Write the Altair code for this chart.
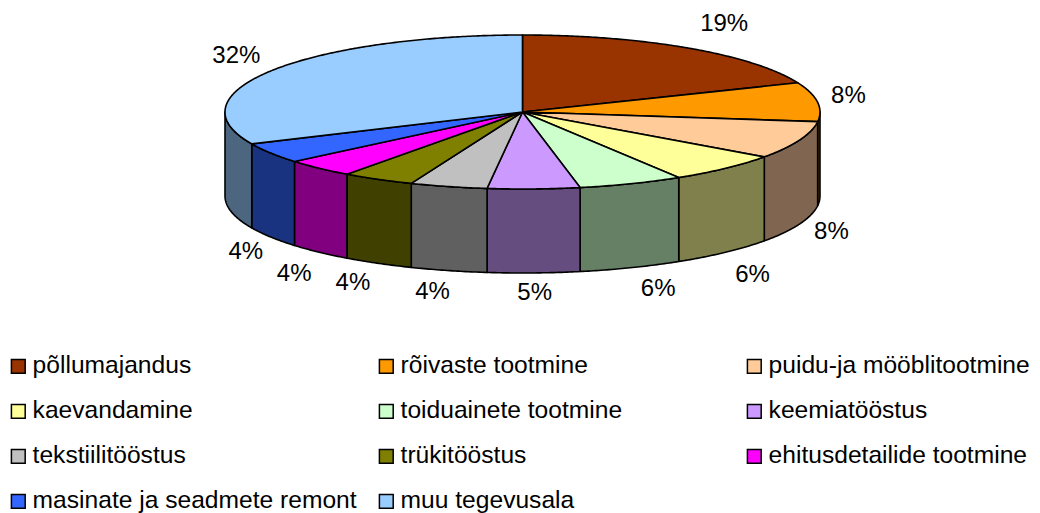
import numpy as np
import altair as alt

# --- data ---
names = ["põllumajandus", "rõivaste tootmine", "puidu-ja mööblitootmine",
         "kaevandamine", "toiduainete tootmine", "keemiatööstus",
         "tekstiilitööstus", "trükitööstus", "ehitusdetailide tootmine",
         "masinate ja seadmete remont", "muu tegevusala"]
shares = [18.8, 8.2, 7.9, 6.3, 5.7, 5.0, 4.2, 3.95, 3.85, 4.3, 31.8]
labels = ["19%", "8%", "8%", "6%", "6%", "5%", "4%", "4%", "4%", "4%", "32%"]
top_colors = ["#993300", "#FF9900", "#FFCC99", "#FFFF99", "#CCFFCC", "#CC99FF",
              "#C0C0C0", "#808000", "#FF00FF", "#3366FF", "#99CCFF"]
side_colors = ["#4D1A00", "#804C00", "#806650", "#80804D", "#668066", "#664D80",
               "#606060", "#404000", "#800080", "#1A3380", "#4D6680"]

# --- layout of the tilted pie (plot-area pixels) ---
CX, CY, RX, RY, DEPTH = 514.5, 104.0, 297.5, 77.0, 84.0
# label offset from the outer rim point at each slice's middle angle
label_nudge = [(36, -24), (31, -6), (32, 8), (27, 23), (27, 21), (1, 20),
               (-16, 21), (-25, 20), (-25, 22), (-25, 15), (-36, -14)]


def rim(deg, drop=0.0):
    t = np.radians(deg)
    return [float(CX + RX * np.sin(t)), float(CY - RY * np.cos(t) + drop)]


def feature(coords, name, side):
    return {"type": "Feature",
            "geometry": {"type": "Polygon", "coordinates": [coords + [coords[0]]]},
            "properties": {"name": name, "side": side}}


edges = np.cumsum([0.0] + shares) / np.sum(shares) * 360.0
tops, sides, text_rows = [], [], []
for i, name in enumerate(names):
    a0, a1 = float(edges[i]), float(edges[i + 1])
    steps = np.linspace(a0, a1, max(3, int(a1 - a0) * 2))
    tops.append(feature([[CX, CY]] + [rim(d) for d in steps], name, top_colors[i]))
    s0, s1 = max(a0, 90.0), min(a1, 270.0)
    if s1 > s0:
        arc = np.linspace(s0, s1, max(3, int(s1 - s0) * 2))
        sides.append(feature([rim(d) for d in arc] + [rim(d, DEPTH) for d in arc[::-1]],
                             name, side_colors[i]))
    mid = (a0 + a1) / 2
    drop = DEPTH if 90 < mid < 270 else 0.0
    px, py = rim(mid, drop)
    text_rows.append({"label": labels[i], "lx": px + label_nudge[i][0], "ly": py + label_nudge[i][1]})

proj = dict(type="identity", scale=1, translate=[0, 0])

side_layer = alt.Chart(alt.Data(values=sides)).mark_geoshape(
    stroke="black", strokeWidth=1.6, strokeJoin="round"
).encode(color=alt.Color("properties.side:N", scale=None, legend=None)).project(**proj)

top_layer = alt.Chart(alt.Data(values=tops)).mark_geoshape(
    stroke="black", strokeWidth=1.6, strokeJoin="round"
).encode(
    color=alt.Color(
        "properties.name:N",
        scale=alt.Scale(domain=names, range=top_colors),
        legend=alt.Legend(
            title=None, orient="none", legendX=-2, legendY=346, columns=3,
            direction="horizontal",
            gridAlign="all", symbolType="square", symbolSize=190,
            symbolStrokeColor="black", symbolStrokeWidth=1.5,
            labelFont="Liberation Sans", labelFontSize=24.6, labelColor="black",
            labelLimit=500, labelOffset=2, rowPadding=20, columnPadding=17,
            padding=0, symbolOpacity=1,
        ),
    )
).project(**proj)

text_layer = alt.Chart(alt.Data(values=text_rows)).mark_text(
    font="Liberation Sans", fontSize=24, color="black", align="center", baseline="middle"
).encode(
    x=alt.X("lx:Q", scale=None, axis=None),
    y=alt.Y("ly:Q", scale=None, axis=None),
    text="label:N",
)

chart = alt.layer(side_layer, top_layer, text_layer).resolve_scale(color="independent").properties(
    width=1024, height=505, padding=0, autosize=alt.AutoSizeParams(type="none")
).configure_view(stroke=None)

chart.save("out.html", embed_options={"renderer": "svg", "actions": False})
